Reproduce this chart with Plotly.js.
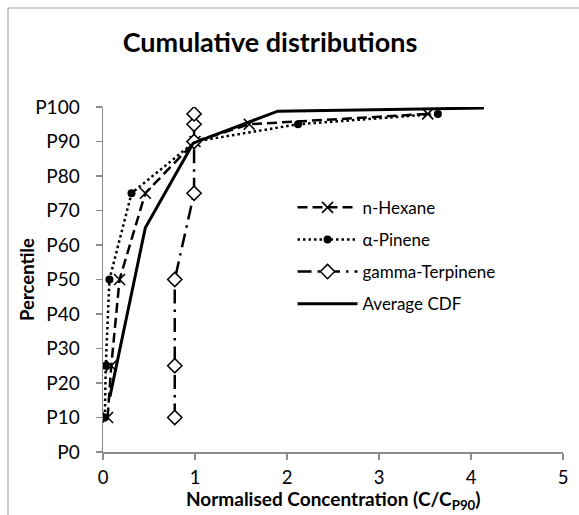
<!DOCTYPE html>
<html>
<head>
<meta charset="utf-8">
<script src="https://cdn.plot.ly/plotly-3.0.1.min.js"></script>
<style>html,body{margin:0;padding:0;background:#fff;}#chart{width:579px;height:515px;}</style>
</head>
<body>
<div id="chart"></div>
<script>
// Data
const percentiles = [10, 25, 50, 75, 90, 95, 98];
const hexaneX = [0.05, 0.09, 0.18, 0.46, 1.0, 1.59, 3.53];
const pineneX = [0.02, 0.03, 0.07, 0.31, 1.0, 2.12, 3.64];
const terpineneX = [0.78, 0.78, 0.78, 0.99, 0.99, 0.99, 0.99];
const averageX = [0.075, 0.46, 0.98, 1.9, 4.14];
const averageY = [16, 65, 89.5, 98.8, 99.7];
const yTickVals = [0, 10, 20, 30, 40, 50, 60, 70, 80, 90, 100];
const yTickText = ["P0", "P10", "P20", "P30", "P40", "P50", "P60", "P70", "P80", "P90", "P100"];
const xTickVals = [0, 1, 2, 3, 4, 5];

const FONT = "Lato, 'Open Sans', sans-serif";

const traces = [
  {
    name: "n-Hexane", x: hexaneX, y: percentiles, mode: "lines+markers",
    line: {color: "#000", width: 2.5, dash: "10px,5px"},
    marker: {symbol: "x-thin-open", size: 11, color: "#000", line: {color: "#000", width: 1.6}},
    legendgroup: "a"
  },
  {
    name: "α-Pinene", x: pineneX, y: percentiles, mode: "lines+markers",
    line: {color: "#000", width: 2.5, dash: "2.5px,3px"},
    marker: {symbol: "circle", size: 8, color: "#000"},
    legendgroup: "b"
  },
  {
    name: "gamma-Terpinene", x: terpineneX, y: percentiles, mode: "lines+markers",
    line: {color: "#000", width: 2.5, dash: "14px,6px,2.5px,6px"},
    marker: {symbol: "diamond", size: 11, color: "#fff", line: {color: "#000", width: 1.5}},
    legendgroup: "c"
  },
  {
    name: "Average CDF", x: averageX, y: averageY, mode: "lines",
    line: {color: "#000", width: 3},
    legendgroup: "d"
  }
];

const layout = {
  width: 579, height: 515,
  margin: {l: 103, r: 16, t: 107, b: 63, pad: 0},
  paper_bgcolor: "#fff", plot_bgcolor: "#fff",
  font: {family: FONT, color: "#000", size: 19},
  title: {
    text: "<b>Cumulative distributions</b>",
    font: {family: FONT, size: 27, color: "#000"},
    x: (270 - 103) / 460, xref: "paper", xanchor: "center",
    y: 1 - 43 / 515, yanchor: "middle"
  },
  xaxis: {
    range: [0, 5], tickvals: xTickVals, ticktext: xTickVals.map(String),
    showgrid: false, zeroline: false, showline: true, linecolor: "#8c8c8c", linewidth: 1.5,
    ticks: "outside", ticklen: 6, tickcolor: "#8c8c8c", tickwidth: 1.5,
    ticklabelstandoff: 2,
    tickfont: {family: FONT, size: 18.5, color: "#000"},
    automargin: false, fixedrange: true
  },
  yaxis: {
    range: [0, 100], tickvals: yTickVals, ticktext: yTickText,
    showgrid: false, zeroline: false, showline: true, linecolor: "#8c8c8c", linewidth: 1.5,
    ticks: "outside", ticklen: 6, tickcolor: "#8c8c8c", tickwidth: 1.5,
    ticklabelstandoff: 12,
    tickfont: {family: FONT, size: 19, color: "#000"},
    automargin: false, fixedrange: true
  },
  annotations: [
    {
      text: "<b>Normalised Concentration (C/C<sub>P90</sub>)</b>",
      xref: "paper", yref: "paper", x: 0.5, y: (452 - 515) / 345,
      xanchor: "center", yanchor: "bottom", showarrow: false,
      font: {family: FONT, size: 19, color: "#000"}
    },
    {
      text: "<b>Percentile</b>", textangle: -90,
      xref: "paper", yref: "paper", x: (27 - 103) / 460, y: (452 - 280) / 345,
      xanchor: "center", yanchor: "middle", showarrow: false,
      font: {family: FONT, size: 18.5, color: "#000"}
    }
  ],
  showlegend: true,
  legend: {
    x: 0.412, y: 0.76, xanchor: "left", yanchor: "top",
    bgcolor: "rgba(0,0,0,0)", borderwidth: 0,
    font: {family: FONT, size: 17, color: "#000"},
    tracegroupgap: 7, traceorder: "grouped", itemwidth: 60
  },
  shapes: [
    {type: "line", xref: "paper", yref: "paper", x0: (8 - 103) / 460, x1: 1.2, y0: 1 + (107 - 8) / 345, y1: 1 + (107 - 8) / 345, line: {color: "#a6a6a6", width: 1.2}},
    {type: "line", xref: "paper", yref: "paper", x0: (8 - 103) / 460, x1: (8 - 103) / 460, y0: 1 + (107 - 8) / 345, y1: -0.3, line: {color: "#a6a6a6", width: 1.2}}
  ]
};

Plotly.newPlot("chart", traces, layout, {displayModeBar: false, staticPlot: true});
</script>
</body>
</html>
